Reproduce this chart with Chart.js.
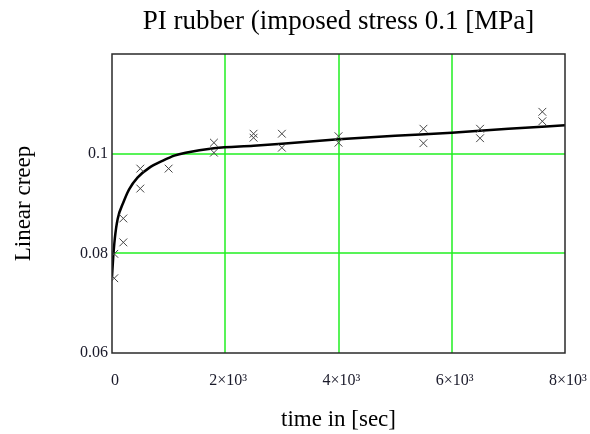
<!DOCTYPE html>
<html>
<head>
<meta charset="utf-8">
<script src="https://cdn.jsdelivr.net/npm/chart.js@4"></script>
<style>
  html, body { margin: 0; padding: 0; background: #fff; }
  #wrap { width: 590px; height: 434px; }
</style>
</head>
<body>
<div id="wrap"><canvas id="creepChart" width="590" height="434"></canvas></div>
<script>
// measured creep (two samples at most times)
var timeMeasured = [40, 40, 200, 200, 500, 500, 1000, 1800, 1800, 2500, 2500, 3000, 3000, 4000, 4000, 5500, 5500, 6500, 6500, 7600, 7600];
var creepMeasured = [0.075, 0.0799, 0.0822, 0.087, 0.097, 0.093, 0.097, 0.1022, 0.1002, 0.104, 0.1032, 0.104, 0.1012, 0.1035, 0.1022, 0.105, 0.1021, 0.105, 0.1031, 0.1084, 0.1065];

// fitted model curve
var timeFit = [0, 20, 50, 100, 200, 300, 450, 650, 900, 1100, 1300, 1800, 2500, 3000, 4000, 5000, 6000, 7000, 8000];
var creepFit = [0.0752, 0.0790, 0.0830, 0.0869, 0.0902, 0.0928, 0.0952, 0.0971, 0.0986, 0.0996, 0.1002, 0.1011, 0.1016, 0.1020, 0.1029, 0.1036, 0.1042, 0.1050, 0.1057];

var xTickValues = [0, 2000, 4000, 6000, 8000];
var xTickLabels = ['0', '2\u00d710\u00b3', '4\u00d710\u00b3', '6\u00d710\u00b3', '8\u00d710\u00b3'];
var yTickValues = [0.06, 0.08, 0.1];
var yTickLabels = ['0.06', '0.08', '0.1'];
var xGridValues = [2000, 4000, 6000];
var yGridValues = [0.08, 0.1];

var serif = '"Liberation Serif", "Times New Roman", serif';

function toPoints(xs, ys) {
    return xs.map(function (x, i) { return { x: x, y: ys[i] }; });
}

function near(a, b) { return Math.abs(a - b) < 1e-6; }

// green grid at the inner ticks, drawn crisp under the data
var greenGrid = {
    id: 'greenGrid',
    beforeDatasetsDraw: function (chart) {
        var a = chart.chartArea;
        var c = chart.ctx;
        var sx = chart.scales.x, sy = chart.scales.y;
        c.save();
        c.strokeStyle = '#22f022';
        c.lineWidth = 1.5;
        c.beginPath();
        xGridValues.forEach(function (v) {
            var px = Math.round(sx.getPixelForValue(v));
            c.moveTo(px, a.top);
            c.lineTo(px, a.bottom);
        });
        yGridValues.forEach(function (v) {
            var py = Math.round(sy.getPixelForValue(v));
            c.moveTo(a.left, py);
            c.lineTo(a.right, py);
        });
        c.stroke();
        c.restore();
    }
};

// box around the plot area
var frame = {
    id: 'frame',
    afterDraw: function (chart) {
        var a = chart.chartArea;
        var c = chart.ctx;
        c.save();
        c.strokeStyle = '#2a2a2a';
        c.lineWidth = 1.5;
        c.strokeRect(Math.round(a.left), Math.round(a.top), Math.round(a.right - a.left), Math.round(a.bottom - a.top));
        c.restore();
    }
};

var ctx = document.getElementById('creepChart').getContext('2d');

var creepChart = new Chart(ctx, {
    type: 'scatter',
    data: {
        datasets: [{
            label: 'fit',
            data: toPoints(timeFit, creepFit),
            showLine: true,
            borderColor: '#000',
            borderWidth: 2.5,
            pointRadius: 0,
            cubicInterpolationMode: 'monotone',
            order: 2
        }, {
            label: 'measured',
            data: toPoints(timeMeasured, creepMeasured),
            pointStyle: 'crossRot',
            pointRadius: 5.5,
            borderColor: '#444',
            borderWidth: 1,
            backgroundColor: '#444',
            order: 1
        }]
    },
    options: {
        responsive: false,
        animation: false,
        layout: { padding: { left: 0, right: 25, top: 0, bottom: 0 } },
        plugins: {
            legend: { display: false },
            tooltip: { enabled: false },
            title: {
                display: true,
                text: 'PI rubber (imposed stress 0.1 [MPa]',
                color: '#000',
                fullSize: false,
                font: { family: serif, size: 27, weight: 'normal' },
                padding: { top: 5.8, bottom: 15.8 }
            }
        },
        scales: {
            x: {
                type: 'linear',
                min: 0,
                max: 8000,
                afterFit: function (s) {
                    s.height = 81;
                    s.paddingLeft = 0;
                    s.paddingRight = 0;
                },
                afterBuildTicks: function (s) { s.ticks = xTickValues.map(function (v) { return { value: v }; }); },
                ticks: {
                    padding: 18,
                    labelOffset: 3,
                    color: '#1a1a2a',
                    font: { family: serif, size: 16 },
                    maxRotation: 0,
                    autoSkip: false,
                    callback: function (v) {
                        var i = xTickValues.indexOf(v);
                        return i >= 0 ? xTickLabels[i] : '';
                    }
                },
                grid: { display: false, drawTicks: false },
                border: { display: false },
                title: {
                    display: true,
                    text: 'time in [sec]',
                    color: '#000',
                    font: { family: serif, size: 23 },
                    padding: { top: 0, bottom: 0 }
                }
            },
            y: {
                min: 0.06,
                max: 0.12,
                afterFit: function (s) { s.width = 112; },
                afterBuildTicks: function (s) { s.ticks = yTickValues.map(function (v) { return { value: v }; }); },
                ticks: {
                    padding: 4,
                    color: '#1a1a2a',
                    font: { family: serif, size: 16 },
                    callback: function (v) {
                        for (var i = 0; i < yTickValues.length; i++) {
                            if (near(v, yTickValues[i])) return yTickLabels[i];
                        }
                        return '';
                    }
                },
                grid: { display: false, drawTicks: false },
                border: { display: false },
                title: {
                    display: true,
                    text: 'Linear creep',
                    color: '#000',
                    font: { family: serif, size: 23 },
                    padding: { top: 10, bottom: 0 }
                }
            }
        }
    },
    plugins: [greenGrid, frame]
});
</script>
</body>
</html>
